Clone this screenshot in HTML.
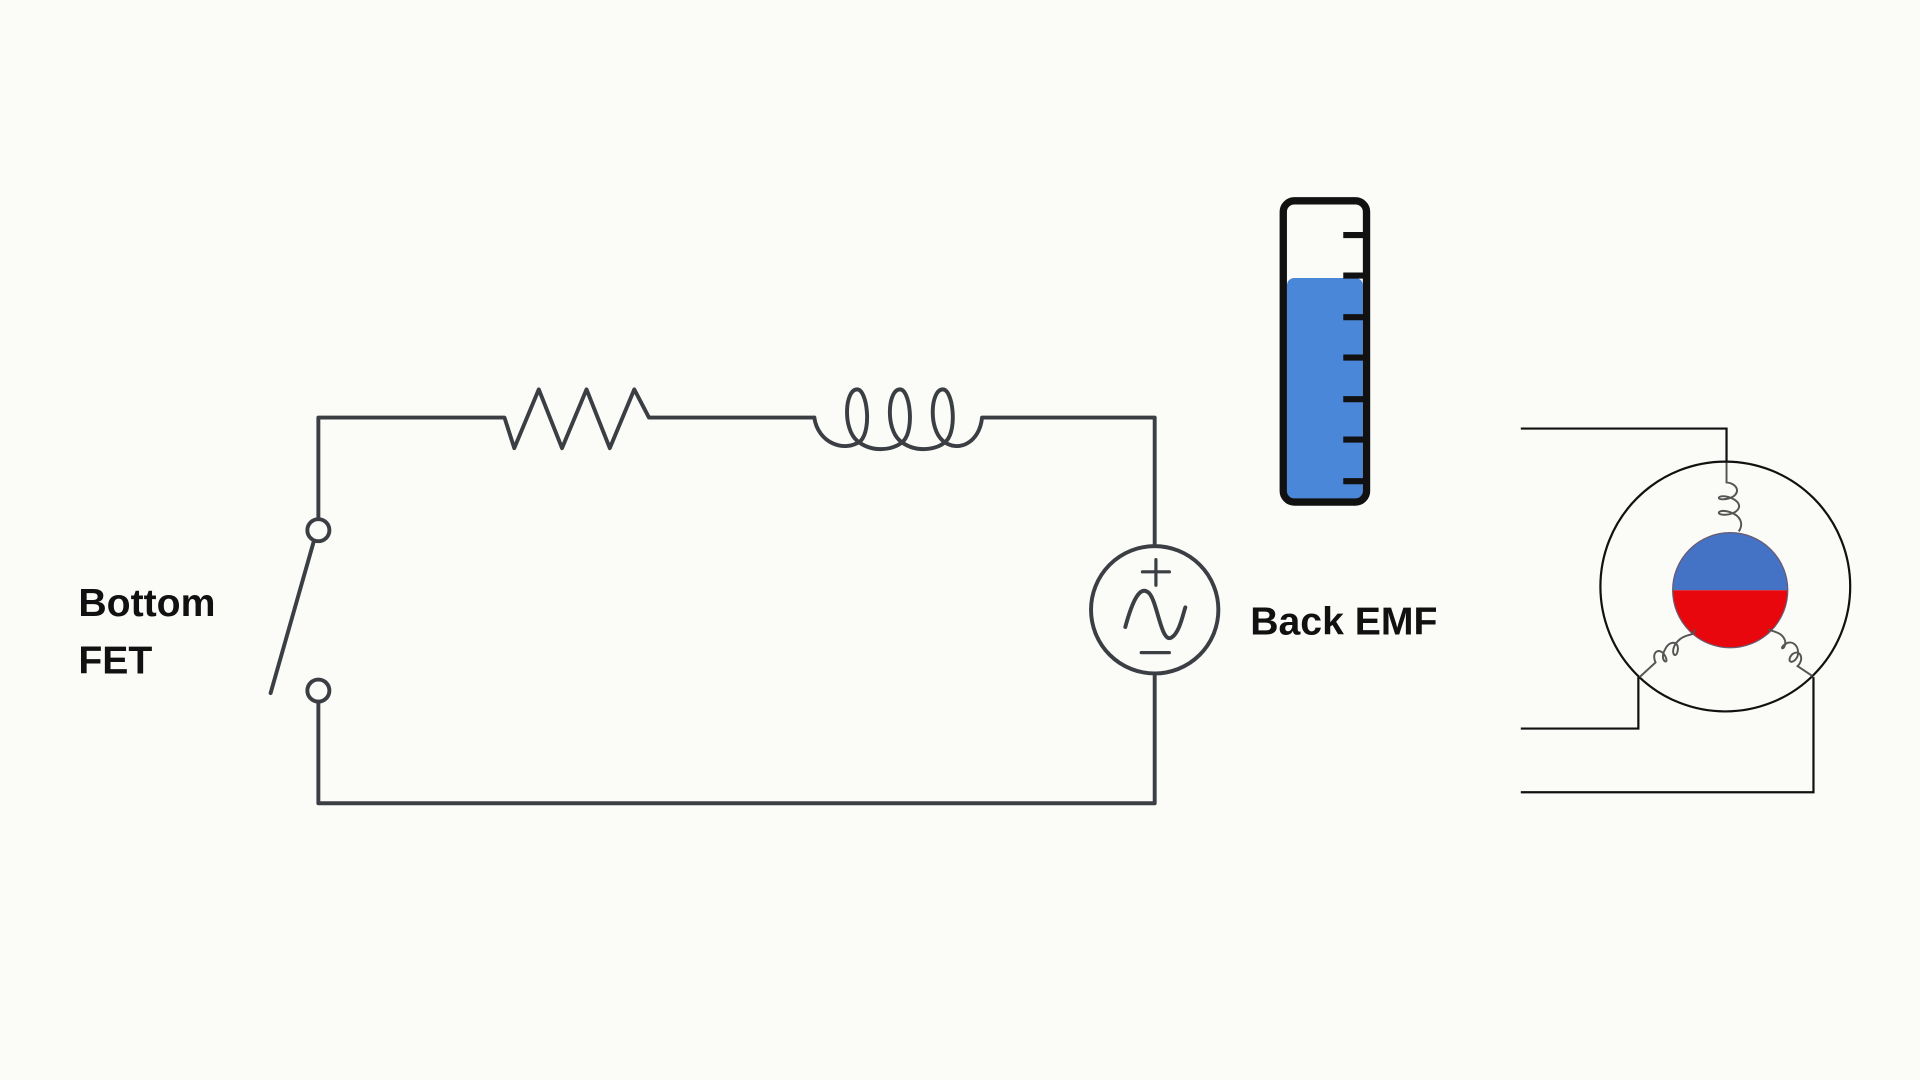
<!DOCTYPE html>
<html><head><meta charset="utf-8"><style>
html,body{margin:0;padding:0;background:#fbfbf8;}
svg{display:block}
</style></head><body>
<svg width="1920" height="1080" viewBox="0 0 1568 882" xmlns="http://www.w3.org/2000/svg">
<rect width="1568" height="882" fill="#fbfbf8"/>
<g fill="none" stroke="#3b3f44" stroke-width="3.2" stroke-linejoin="round" stroke-linecap="round">
<path d="M260 424 V341 H412 L420 366 L440 318 L459 366 L479 318 L498 366 L518 318 L530 341 H665"/>
<path d="M665 341 C668 362 690 370 703 360 C712 350 708 318 700 318 C690 318 688 350 700 360 C712 370 730 368 738 360 C747 350 743 318 735 318 C725 318 723 350 735 360 C747 370 765 368 773 360 C782 350 778 318 770 318 C760 318 758 350 770 360 C782 370 800 362 802 341 H943 V446"/>
<path d="M943 550 V656 H260 V573"/>
<circle cx="260" cy="433" r="9" fill="#fbfbf8"/>
<circle cx="260" cy="564" r="9" fill="#fbfbf8"/>
<path d="M256 443 L221 566"/>
<circle cx="943" cy="498" r="52" fill="#fbfbf8"/>
<path d="M919 512 C925 490 931 478 938 484 C945 490 948 524 956 521 C963 518 966 502 968 496"/>
<path d="M933 467 H955 M944 457 V478 M932 533 H955" stroke-width="2.6"/>
</g>
<text x="64" y="503" font-family="Liberation Sans, sans-serif" font-weight="bold" font-size="32" fill="#111">Bottom</text>
<text x="64" y="550" font-family="Liberation Sans, sans-serif" font-weight="bold" font-size="32" fill="#111">FET</text>
<text x="1021" y="518" font-family="Liberation Sans, sans-serif" font-weight="bold" font-size="32" fill="#111">Back EMF</text>
<rect x="1051" y="227" width="62" height="182" rx="6" fill="#4b87d9"/>
<rect x="1048" y="164" width="68" height="246" rx="9" fill="none" stroke="#111" stroke-width="6"/>
<g stroke="#111" stroke-width="5">
<path d="M1097 192 H1114 M1097 225 H1114 M1097 259 H1114 M1097 292 H1114 M1097 326 H1114 M1097 359 H1114 M1097 393 H1114"/>
</g>
<g fill="none" stroke="#111" stroke-width="1.8">
<path d="M1242 350 H1410 V378"/>
<path d="M1242 595 H1338 V553"/>
<path d="M1242 647 H1481 V553"/>
<circle cx="1409" cy="479" r="102"/>
</g>
<path d="M1366 482 A47 47 0 0 1 1460 482 Z" fill="#4472c4"/>
<path d="M1366 482 A47 47 0 0 0 1460 482 Z" fill="#e8070c"/>
<circle cx="1413" cy="482" r="47" fill="none" stroke="#6a5a70" stroke-width="1"/>
<g fill="none" stroke="#555" stroke-width="1.6">
<path d="M1410 378 V394 C1420 395 1422 404 1412 407 C1400 410 1402 403 1412 406 C1424 410 1422 418 1412 420 C1400 422 1402 415 1412 418 C1422 421 1424 428 1420 434"/>
<path d="M1339 553 L1352 541 C1348 532 1356 528 1360 536 C1364 544 1354 540 1360 530 C1364 522 1372 524 1370 532 C1368 540 1362 530 1372 522 C1378 517 1384 520 1384 514"/>
<path d="M1480 552 L1468 544 C1474 538 1470 530 1464 534 C1458 540 1464 544 1468 536 C1470 528 1464 522 1458 526 C1452 530 1458 532 1458 524 C1456 516 1448 516 1444 514"/>
</g>
</svg>
</body></html>
